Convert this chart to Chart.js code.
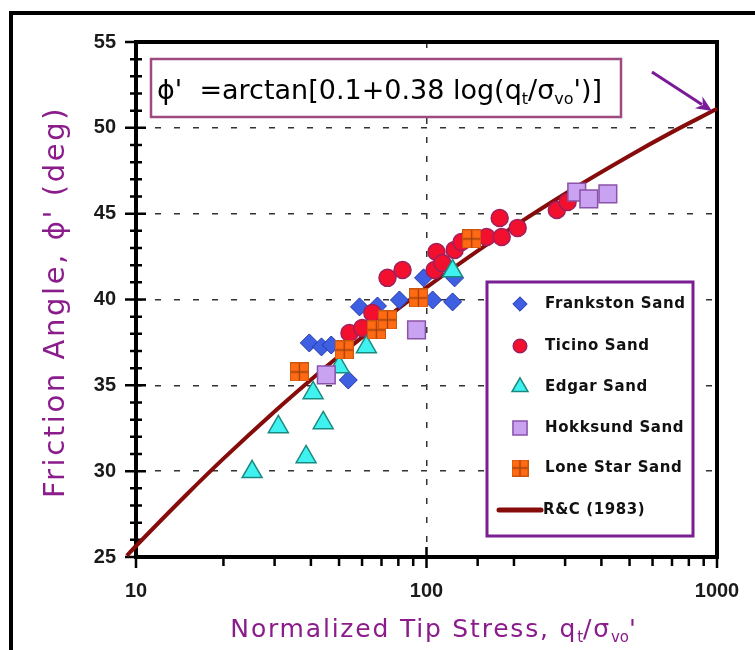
<!DOCTYPE html>
<html>
<head>
<meta charset="utf-8">
<script src="https://cdn.jsdelivr.net/npm/chart.js@4.4.0/dist/chart.umd.min.js"></script>
<style>
html, body { margin: 0; padding: 0; background: #fff; }
#wrap { position: relative; width: 755px; height: 650px; }
</style>
</head>
<body>
<div id="wrap"><canvas id="chart"></canvas></div>
<script>
// values (x = qt/svo', y = friction angle in deg)
var frankstonX = [39.5, 43.5, 47.0, 53.8, 58.8, 67.8, 80.7, 97.7, 105, 123, 125];
var frankstonY = [37.47, 37.24, 37.35, 35.31, 39.57, 39.62, 39.97, 41.26, 39.97, 39.86, 41.26];

var ticinoX = [54.3, 60.1, 65.1, 73.4, 82.7, 106.6, 108.2, 113.5, 125, 132, 161, 178.6, 181.5, 206, 281, 306];
var ticinoY = [38.05, 38.34, 39.22, 41.26, 41.72, 41.72, 42.77, 42.13, 42.89, 43.35, 43.64, 44.75, 43.64, 44.17, 45.22, 45.68];

var edgarX = [25.1, 30.9, 38.5, 40.7, 44.1, 50.1, 62.1, 123];
var edgarY = [29.96, 32.58, 30.83, 34.56, 32.81, 36.07, 37.24, 41.66];

var hokksundX = [45.2, 92.4, 329, 362, 421];
var hokksundY = [35.61, 38.23, 46.26, 45.86, 46.15];

var loneStarX = [36.5, 52.1, 67.2, 73.4, 93.8, 143];
var loneStarY = [35.78, 37.06, 38.23, 38.81, 40.09, 43.53];

// R&C (1983) curve
var curveX = [9.3, 10, 15, 20, 30, 40, 50, 70, 100, 150, 200, 300, 500, 700, 1000, 1050];
var curveY = [25.08, 25.64, 28.67, 30.73, 33.48, 35.33, 36.71, 38.70, 40.70, 42.83, 44.26, 46.16, 48.38, 49.75, 51.11, 51.30];

var seriesNames = ['Frankston Sand', 'Ticino Sand', 'Edgar Sand', 'Hokksund Sand', 'Lone Star Sand', 'R&C (1983)'];
var xTickLabels = [10, 100, 1000];
var yTickLabels = [25, 30, 35, 40, 45, 50, 55];

function pts(xs, ys) {
    return xs.map(function (x, i) { return { x: x, y: ys[i] }; });
}

var purple = '#8a1c8c';
var textFont = "'DejaVu Sans', sans-serif";

function makeLoneStar(s) {
    var c = document.createElement('canvas');
    c.width = s; c.height = s;
    var g = c.getContext('2d');
    g.fillStyle = '#ff6a12';
    g.fillRect(0, 0, s, s);
    g.strokeStyle = '#c8560e';
    g.lineWidth = 1;
    g.strokeRect(0.5, 0.5, s - 1, s - 1);
    g.strokeStyle = '#a0400c';
    g.lineWidth = 1.3;
    g.beginPath();
    g.moveTo(s / 2, 1); g.lineTo(s / 2, s - 1);
    g.moveTo(1, s / 2); g.lineTo(s - 1, s / 2);
    g.stroke();
    return c;
}
var loneStarIcon = makeLoneStar(19);
var loneStarLegend = makeLoneStar(17);

// text with subscripts: parts = [[text, isSub], ...]
function setFont(ctx, p, size, weight, spacing) {
    ctx.font = (weight || '') + ' ' + (p[1] ? Math.round(size * 0.6) : size) + 'px ' + textFont;
    ctx.letterSpacing = (p[1] ? 0 : spacing) + 'px';
}
function richWidth(ctx, parts, size, weight, spacing) {
    var w = 0;
    parts.forEach(function (p) {
        setFont(ctx, p, size, weight, spacing);
        w += ctx.measureText(p[0]).width;
    });
    return w;
}
function drawRich(ctx, parts, x, y, size, weight, spacing) {
    ctx.textBaseline = 'alphabetic';
    ctx.textAlign = 'left';
    parts.forEach(function (p) {
        setFont(ctx, p, size, weight, spacing);
        ctx.fillText(p[0], x, y + (p[1] ? size * 0.18 : 0));
        x += ctx.measureText(p[0]).width;
    });
    ctx.letterSpacing = '0px';
}

function drawMarker(ctx, ds, x, y, scale) {
    var r = ds.pointRadius * scale;
    ctx.save();
    ctx.fillStyle = ds.backgroundColor;
    ctx.strokeStyle = ds.borderColor;
    ctx.lineWidth = ds.borderWidth || 1;
    ctx.beginPath();
    if (ds.pointStyle === 'circle') {
        ctx.arc(x, y, r, 0, Math.PI * 2);
    } else if (ds.pointStyle === 'rectRot') {
        ctx.moveTo(x, y - r); ctx.lineTo(x + r, y); ctx.lineTo(x, y + r); ctx.lineTo(x - r, y); ctx.closePath();
    } else if (ds.pointStyle === 'triangle') {
        ctx.moveTo(x, y - r);
        ctx.lineTo(x + r * 0.866, y + r * 0.5);
        ctx.lineTo(x - r * 0.866, y + r * 0.5);
        ctx.closePath();
    } else if (ds.pointStyle === 'rect') {
        var h = r * Math.SQRT1_2;
        ctx.rect(x - h, y - h, 2 * h, 2 * h);
    } else {
        ctx.restore();
        ctx.drawImage(loneStarLegend, x - 8.5, y - 8.5);
        return;
    }
    ctx.fill();
    ctx.stroke();
    ctx.restore();
}

var decorPlugin = {
    id: 'decor',
    beforeDatasetsDraw: function (chart) {
        var ctx = chart.ctx;
        var a = chart.chartArea;
        var xs = chart.scales.x, ys = chart.scales.y;
        ctx.save();
        // outer frame of the slide
        ctx.strokeStyle = '#000';
        ctx.lineWidth = 4;
        ctx.beginPath();
        ctx.moveTo(11, 650); ctx.lineTo(11, 13); ctx.lineTo(755, 13);
        ctx.stroke();

        // tick marks
        ctx.lineWidth = 2.5;
        ctx.beginPath();
        ys.ticks.forEach(function (t) {
            var py = ys.getPixelForValue(t.value);
            var major = t.value % 5 === 0;
            ctx.moveTo(a.left - (major ? 11 : 6), py);
            ctx.lineTo(a.left + (major ? 10 : 6), py);
        });
        xs.ticks.forEach(function (t) {
            var px = xs.getPixelForValue(t.value);
            var major = xTickLabels.indexOf(t.value) >= 0;
            ctx.moveTo(px, a.bottom - (t.value === 100 ? 10 : 0));
            ctx.lineTo(px, a.bottom + (major ? 11 : 9));
        });
        ctx.stroke();

        // plot border
        ctx.lineWidth = 4;
        ctx.strokeRect(a.left, a.top, a.right - a.left, a.bottom - a.top);
        ctx.restore();
    },
    afterDatasetsDraw: function (chart) {
        var ctx = chart.ctx;
        ctx.save();

        // axis titles
        ctx.fillStyle = purple;
        ctx.save();
        ctx.translate(56, 302);
        ctx.rotate(-Math.PI / 2);
        ctx.font = '29px ' + textFont;
        ctx.letterSpacing = '2.6px';
        ctx.textAlign = 'center';
        ctx.textBaseline = 'middle';
        ctx.fillText("Friction Angle, \u03d5' (deg)", 0, 0);
        ctx.letterSpacing = '0px';
        ctx.restore();

        var xParts = [['Normalized Tip Stress, q', false], ['t', true], ['/\u03c3', false], ['vo', true], ["'", false]];
        var w = richWidth(ctx, xParts, 25, '', 1.8);
        drawRich(ctx, xParts, 434 - w / 2, 637, 25, '', 1.8);

        // formula box
        ctx.fillStyle = '#fff';
        ctx.fillRect(151, 59, 470, 58);
        ctx.strokeStyle = '#a04a82';
        ctx.lineWidth = 2.5;
        ctx.strokeRect(151, 59, 470, 58);
        ctx.fillStyle = '#000';
        var fParts = [["\u03d5'  =arctan[0.1+0.38 log(q", false], ['t', true], ['/\u03c3', false], ['vo', true], ["')]", false]];
        drawRich(ctx, fParts, 157, 99, 27, '', 0);

        // legend box
        ctx.fillStyle = '#fff';
        ctx.fillRect(487, 282, 206, 254);
        ctx.strokeStyle = '#7a1f92';
        ctx.lineWidth = 3;
        ctx.strokeRect(487, 282, 206, 254);
        var rows = [304, 346, 387, 428, 468, 510];
        chart.data.datasets.forEach(function (ds, i) {
            var y = rows[i];
            if (ds.showLine) {
                ctx.strokeStyle = ds.borderColor;
                ctx.lineWidth = 5;
                ctx.lineCap = 'round';
                ctx.beginPath();
                ctx.moveTo(499, y); ctx.lineTo(541, y);
                ctx.stroke();
                ctx.lineCap = 'butt';
            } else {
                drawMarker(ctx, ds, 520, y, 0.8);
            }
            ctx.fillStyle = '#111';
            ctx.font = 'bold 15px ' + textFont;
            ctx.letterSpacing = '0.6px';
            ctx.textAlign = 'left';
            ctx.textBaseline = 'middle';
            ctx.fillText(ds.label, ds.showLine ? 543 : 545, y);
            ctx.letterSpacing = '0px';
        });

        // arrow pointing at the curve
        ctx.strokeStyle = '#7b1a98';
        ctx.fillStyle = '#7b1a98';
        ctx.lineWidth = 3;
        var x0 = 652, y0 = 72, x1 = 712, y1 = 111;
        var ang = Math.atan2(y1 - y0, x1 - x0);
        ctx.beginPath();
        ctx.moveTo(x0, y0);
        ctx.lineTo(x1 - 12 * Math.cos(ang), y1 - 12 * Math.sin(ang));
        ctx.stroke();
        ctx.beginPath();
        ctx.moveTo(x1, y1);
        ctx.lineTo(x1 - 16 * Math.cos(ang) + 7 * Math.sin(ang), y1 - 16 * Math.sin(ang) - 7 * Math.cos(ang));
        ctx.lineTo(x1 - 11 * Math.cos(ang), y1 - 11 * Math.sin(ang));
        ctx.lineTo(x1 - 16 * Math.cos(ang) - 7 * Math.sin(ang), y1 - 16 * Math.sin(ang) + 7 * Math.cos(ang));
        ctx.closePath();
        ctx.fill();
        ctx.restore();
    }
};

var ctx = document.getElementById('chart').getContext('2d');
ctx.canvas.width = 755;
ctx.canvas.height = 650;

var tickFont = { family: "'Liberation Sans', Arial, sans-serif", size: 20, weight: 'bold' };

var myChart = new Chart(ctx, {
    type: 'scatter',
    data: {
        datasets: [{
            label: seriesNames[0],
            data: pts(frankstonX, frankstonY),
            pointStyle: 'rectRot',
            pointRadius: 9,
            backgroundColor: '#3f5fe2',
            borderColor: '#2236a6',
            borderWidth: 1,
            order: 5
        }, {
            label: seriesNames[1],
            data: pts(ticinoX, ticinoY),
            pointStyle: 'circle',
            pointRadius: 8.5,
            backgroundColor: '#f2102e',
            borderColor: '#a0205e',
            borderWidth: 1.5,
            order: 4
        }, {
            label: seriesNames[2],
            data: pts(edgarX, edgarY),
            pointStyle: 'triangle',
            pointRadius: 11.5,
            backgroundColor: '#3ff2f0',
            borderColor: '#1a8a80',
            borderWidth: 1.5,
            order: 3
        }, {
            label: seriesNames[3],
            data: pts(hokksundX, hokksundY),
            pointStyle: 'rect',
            pointRadius: 12.5,
            backgroundColor: '#c9a2f2',
            borderColor: '#8a52a8',
            borderWidth: 1.5,
            order: 2
        }, {
            label: seriesNames[4],
            data: pts(loneStarX, loneStarY),
            pointStyle: loneStarIcon,
            pointRadius: 10,
            backgroundColor: '#ff6a12',
            borderColor: '#c8560e',
            order: 1
        }, {
            label: seriesNames[5],
            data: pts(curveX, curveY),
            showLine: true,
            pointRadius: 0,
            borderColor: '#860b0b',
            borderWidth: 4,
            cubicInterpolationMode: 'monotone',
            clip: false,
            order: 6
        }]
    },
    options: {
        responsive: false,
        animation: false,
        events: [],
        layout: { padding: { top: 42, right: 38, left: 0, bottom: 0 } },
        plugins: {
            legend: { display: false },
            tooltip: { enabled: false }
        },
        scales: {
            x: {
                type: 'logarithmic',
                min: 10,
                max: 1000,
                afterFit: function (s) { s.height = 93; s.paddingLeft = 0; s.paddingRight = 0; },
                border: { display: false, dash: [6, 13] },
                grid: {
                    drawTicks: false,
                    lineWidth: 1.5,
                    color: function (c) { return c.tick && c.tick.value === 100 ? '#333' : 'rgba(0,0,0,0)'; }
                },
                ticks: {
                    autoSkip: false,
                    maxRotation: 0,
                    padding: 22,
                    color: '#1a1a1a',
                    font: tickFont,
                    callback: function (v) { return xTickLabels.indexOf(v) >= 0 ? String(v) : ''; }
                }
            },
            y: {
                min: 25,
                max: 55,
                afterFit: function (s) { s.width = 136; s.paddingTop = 0; s.paddingBottom = 0; },
                border: { display: false, dash: [6, 13] },
                grid: {
                    drawTicks: false,
                    lineWidth: 1.5,
                    color: function (c) {
                        var v = c.tick && c.tick.value;
                        return v > 25 && v < 55 && v % 5 === 0 ? '#333' : 'rgba(0,0,0,0)';
                    }
                },
                ticks: {
                    stepSize: 1,
                    autoSkip: false,
                    padding: 20,
                    color: '#1a1a1a',
                    font: tickFont,
                    callback: function (v) { return yTickLabels.indexOf(v) >= 0 ? String(v) : ''; }
                }
            }
        }
    },
    plugins: [decorPlugin]
});
</script>
</body>
</html>
